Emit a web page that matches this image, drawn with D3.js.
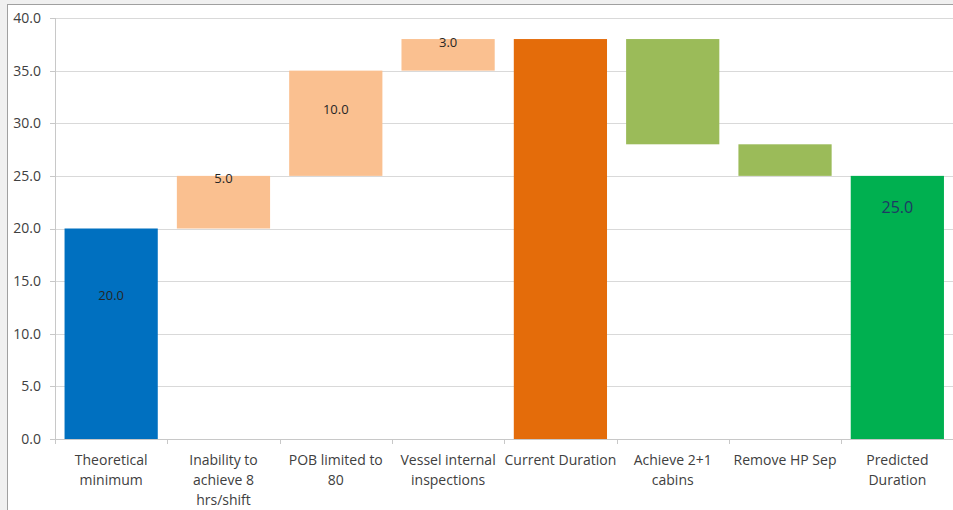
<!DOCTYPE html>
<html>
<head>
<meta charset="utf-8">
<script src="https://cdn.jsdelivr.net/npm/d3@7"></script>
<style>
  body { margin: 0; background: #f0f0f0; }
  #chart { position: absolute; left: 7px; top: 4px; width: 960px; height: 520px;
           background: #fff; border: 1px solid #a0a0a0; box-sizing: border-box; }
</style>
</head>
<body>
<div id="chart"></div>
<script>
// Categories (each label split into lines)
var categories = [
  ["Theoretical", "minimum"],
  ["Inability to", "achieve 8", "hrs/shift"],
  ["POB limited to", "80"],
  ["Vessel internal", "inspections"],
  ["Current Duration"],
  ["Achieve 2+1", "cabins"],
  ["Remove HP Sep"],
  ["Predicted", "Duration"]
];

// Waterfall: invisible base + visible segment
var baseValues = [0, 20, 25, 35, 0, 28, 25, 0];
var barValues  = [20, 5, 10, 3, 38, 10, 3, 25];
var labelText  = ["20.0", "5.0", "10.0", "3.0", "", "", "", "25.0"];

var yTicks = [0, 5, 10, 15, 20, 25, 30, 35, 40];

var barColors = ["#0070c0", "#fac090", "#fac090", "#fac090", "#e46c0a", "#9bbb59", "#9bbb59", "#00b050"];

var svgWidth = 953, svgHeight = 510;
var svg = d3.select("body")
            .append("svg")
            .attr("width", svgWidth)
            .attr("height", svgHeight)
            .style("position", "absolute")
            .style("left", "0px")
            .style("top", "0px");

var plotLeft = 55, plotRight = 953.5, plotTop = 18, plotBottom = 439;

var xScale = d3.scaleBand()
               .domain(d3.range(categories.length))
               .range([plotLeft, plotRight])
               .paddingInner(0.17)
               .paddingOuter(0.085);

var yScale = d3.scaleLinear()
               .domain([0, 40])
               .range([plotBottom, plotTop]);

var font = "'Open Sans', 'Noto Sans', sans-serif";

// gridlines
svg.selectAll("line.grid")
   .data(yTicks.filter(function(d) { return d > 0; }))
   .enter()
   .append("line")
   .attr("class", "grid")
   .attr("x1", plotLeft)
   .attr("x2", svgWidth)
   .attr("y1", function(d) { return Math.round(yScale(d)) + 0.5; })
   .attr("y2", function(d) { return Math.round(yScale(d)) + 0.5; })
   .attr("stroke", "#d9d9d9")
   .attr("stroke-width", 1);

// y axis line + ticks
svg.append("line")
   .attr("x1", plotLeft + 0.5).attr("x2", plotLeft + 0.5)
   .attr("y1", plotTop).attr("y2", plotBottom)
   .attr("stroke", "#c8c8c8");

svg.selectAll("line.ytick")
   .data(yTicks)
   .enter()
   .append("line")
   .attr("class", "ytick")
   .attr("x1", plotLeft - 5).attr("x2", plotLeft)
   .attr("y1", function(d) { return Math.round(yScale(d)) + 0.5; })
   .attr("y2", function(d) { return Math.round(yScale(d)) + 0.5; })
   .attr("stroke", "#c8c8c8");

svg.selectAll("text.ylabel")
   .data(yTicks)
   .enter()
   .append("text")
   .attr("class", "ylabel")
   .attr("x", 41)
   .attr("y", function(d) { return yScale(d); })
   .attr("dy", "0.35em")
   .attr("text-anchor", "end")
   .attr("font-family", font)
   .attr("font-size", "14px")
   .attr("fill", "#404040")
   .text(function(d) { return d.toFixed(1); });

// bars
svg.selectAll("rect.bar")
   .data(barValues)
   .enter()
   .append("rect")
   .attr("class", "bar")
   .attr("x", function(d, i) { return xScale(i); })
   .attr("y", function(d, i) { return yScale(baseValues[i] + d); })
   .attr("width", xScale.bandwidth())
   .attr("height", function(d, i) { return yScale(baseValues[i]) - yScale(baseValues[i] + d); })
   .attr("fill", function(d, i) { return barColors[i]; });

// x axis line + tick marks at band boundaries
svg.append("line")
   .attr("x1", plotLeft).attr("x2", svgWidth)
   .attr("y1", plotBottom + 0.5).attr("y2", plotBottom + 0.5)
   .attr("stroke", "#c8c8c8");

var step = xScale.step();
svg.selectAll("line.xtick")
   .data(d3.range(categories.length + 1))
   .enter()
   .append("line")
   .attr("class", "xtick")
   .attr("x1", function(d) { return Math.round(plotLeft + d * step) + 0.5; })
   .attr("x2", function(d) { return Math.round(plotLeft + d * step) + 0.5; })
   .attr("y1", plotBottom).attr("y2", plotBottom + 5)
   .attr("stroke", "#c8c8c8");

// category labels
var catG = svg.selectAll("text.cat")
   .data(categories)
   .enter()
   .append("text")
   .attr("class", "cat")
   .attr("text-anchor", "middle")
   .attr("font-family", font)
   .attr("font-size", "14px")
   .attr("fill", "#404040");

catG.selectAll("tspan")
    .data(function(d, i) { return d.map(function(s) { return { s: s, i: i }; }); })
    .enter()
    .append("tspan")
    .attr("x", function(d) { return xScale(d.i) + xScale.bandwidth() / 2; })
    .attr("y", function(d, j) { return 465 + j * 20; })
    .text(function(d) { return d.s; });

// data labels
svg.selectAll("text.val")
   .data(barValues)
   .enter()
   .append("text")
   .attr("class", "val")
   .attr("x", function(d, i) { return xScale(i) + xScale.bandwidth() / 2; })
   .attr("y", function(d, i) {
     var yTop = yScale(baseValues[i] + d);
     if (i === 0) return yScale(baseValues[i] + d * 0.68);
     if (i === 2) return yScale(baseValues[i] + d * 0.63);
     if (i === 7) return yTop + 32;
     return yTop + 3;
   })
   .attr("dy", "0.35em")
   .attr("text-anchor", "middle")
   .attr("font-family", font)
   .attr("font-size", function(d, i) { return i === 7 ? "16px" : "13px"; })
   .attr("fill", function(d, i) { return i === 7 ? "#1f3864" : "#262626"; })
   .text(function(d, i) { return labelText[i]; });
</script>
</body>
</html>
